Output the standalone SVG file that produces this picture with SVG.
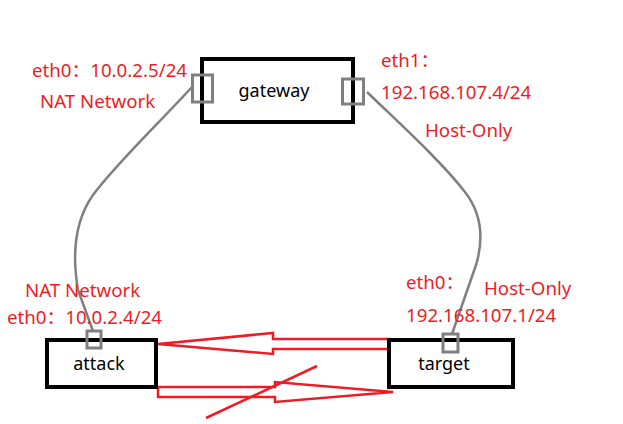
<svg xmlns="http://www.w3.org/2000/svg" width="623" height="424" viewBox="0 0 623 424">
<style>
.box{fill:#fff;stroke:#000;stroke-width:4}
.port{fill:none;stroke:#7f7f7f;stroke-width:3}
.wire{fill:none;stroke:#7f7f7f;stroke-width:2.5}
.arrow{fill:none;stroke:#ed1c24;stroke-width:2.5;stroke-linejoin:miter}
.lbl{font-family:"Noto Sans","Noto Sans CJK SC",sans-serif;font-size:18.7px;fill:#ed1c24}
.name{font-family:"Noto Sans","Noto Sans CJK SC",sans-serif;font-size:18px;fill:#000;text-anchor:middle}
</style>
<rect width="623" height="424" fill="#fff"/>
<g id="connectors">
<path class="wire" d="M192,87 C160,122 115,165 93,195 C74,222 72,255 78,290 L93,331"/>
<path class="wire" d="M367,92 C400,124 440,160 465,192 C485,218 482,245 476,265 L452,334"/>
<path class="arrow" d="M158,344 L273,333 L273,339 L389,339 L389,349 L273,349 L273,354 Z"/>
<path class="arrow" d="M158,387 L275,387 L275,382 L393,392 L275,402 L275,397 L158,397 Z"/>
<line x1="206" y1="418" x2="317" y2="366" stroke="#ed1c24" stroke-width="2.5"/>
</g>
<g id="gateway">
<rect class="box" x="202" y="59" width="151" height="63"/>
<rect class="port" x="192.5" y="75" width="20" height="27"/>
<rect class="port" x="342.5" y="79" width="21" height="25"/>
<text class="name" x="274" y="97">gateway</text>
</g>
<g id="attack">
<rect class="box" x="47" y="340" width="109" height="47"/>
<rect class="port" x="87" y="331" width="14" height="17"/>
<text class="name" x="99" y="370">attack</text>
</g>
<g id="target">
<rect class="box" x="389" y="340" width="124" height="47"/>
<rect class="port" x="443" y="334" width="15" height="18"/>
<text class="name" x="444" y="370">target</text>
</g>
<g id="labels">
<text class="lbl" x="32" y="77">eth0：10.0.2.5/24</text>
<text class="lbl" x="40" y="108">NAT Network</text>
<text class="lbl" x="381" y="67">eth1：</text>
<text class="lbl" x="381" y="99">192.168.107.4/24</text>
<text class="lbl" x="425" y="137">Host-Only</text>
<text class="lbl" x="25" y="297">NAT Network</text>
<text class="lbl" x="7" y="324">eth0：10.0.2.4/24</text>
<text class="lbl" x="406" y="289">eth0：</text>
<text class="lbl" x="484" y="295">Host-Only</text>
<text class="lbl" x="406" y="322">192.168.107.1/24</text>
</g>
</svg>
